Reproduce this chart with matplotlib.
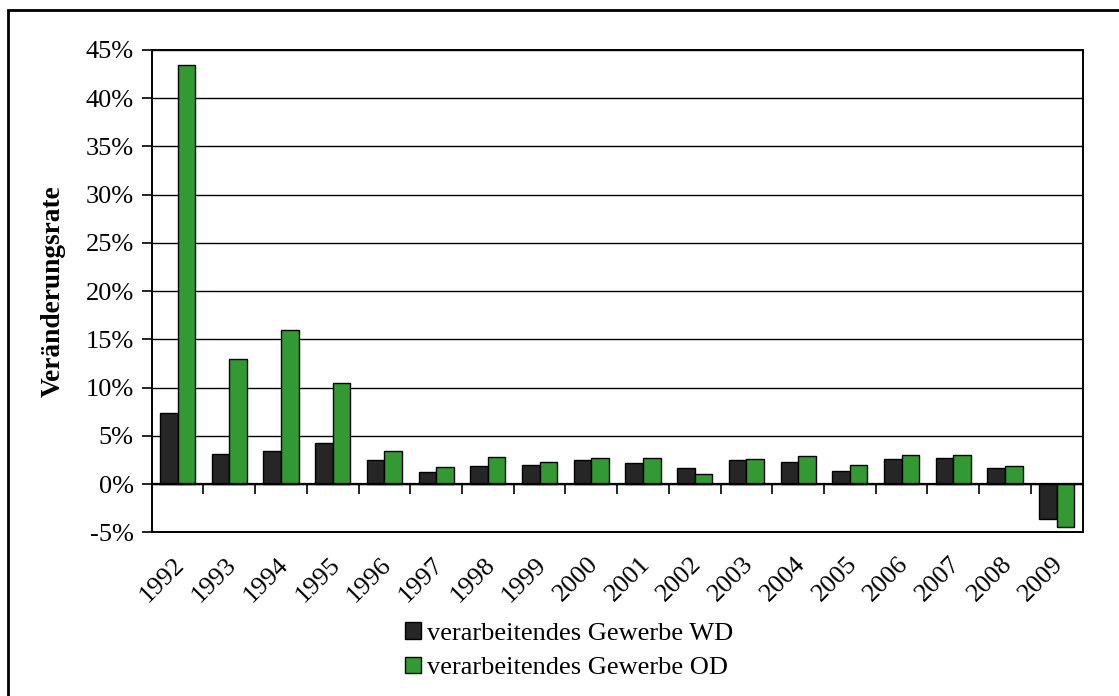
import numpy as np
import matplotlib
matplotlib.use("Agg")
import matplotlib.pyplot as plt
from matplotlib.patches import Patch, Rectangle
from matplotlib.ticker import FuncFormatter
import matplotlib.transforms as mtransforms

years = ["1992", "1993", "1994", "1995", "1996", "1997", "1998", "1999", "2000",
         "2001", "2002", "2003", "2004", "2005", "2006", "2007", "2008", "2009"]
wd = [7.4, 3.1, 3.4, 4.3, 2.5, 1.3, 1.9, 2.0, 2.5,
      2.2, 1.7, 2.5, 2.3, 1.4, 2.6, 2.7, 1.7, -3.6]
od = [43.4, 13.0, 16.0, 10.5, 3.4, 1.8, 2.8, 2.3, 2.7,
      2.7, 1.0, 2.6, 2.9, 2.0, 3.0, 3.0, 1.9, -4.4]
series_names = ["verarbeitendes Gewerbe WD", "verarbeitendes Gewerbe OD"]
colors = ["#262626", "#339933"]

plt.rcParams['font.family'] = ['Liberation Serif', 'DejaVu Serif']
fs = 19

fig = plt.figure(figsize=(11.19, 6.96), dpi=100)
ax = fig.add_axes([0.1356, 0.2352, 0.9675 - 0.1356, 0.9282 - 0.2352])

# outer frame (runs off the right and bottom edge)
fig.patches.append(Rectangle((8 / 1119, -0.05), 1.2, 0.05 + 1 - 10 / 696,
                             transform=fig.transFigure, fill=False,
                             edgecolor="black", linewidth=2.0))

x = np.arange(len(years))
w = 0.34
ax.bar(x - w / 2, wd, w, color=colors[0], edgecolor="black", linewidth=1.0, zorder=3)
ax.bar(x + w / 2, od, w, color=colors[1], edgecolor="black", linewidth=1.0, zorder=3)

ax.set_xlim(-0.5, len(years) - 0.5)
ax.set_ylim(-5, 45)
ax.set_yticks(np.arange(-5, 46, 5))
ax.yaxis.set_major_formatter(FuncFormatter(lambda v, p: f"{v:.0f}%"))
ax.yaxis.grid(True, color="black", linewidth=1.0, zorder=0)
ax.axhline(0, color="black", linewidth=1.6, zorder=4)

for s in ax.spines.values():
    s.set_linewidth(1.4)

ax.tick_params(axis="y", direction="out", length=7, width=1.2, labelsize=fs, pad=6)
ax.set_xticks(x)
ax.set_xticklabels(years, rotation=45, ha="right", va="top", rotation_mode="anchor", fontsize=fs)
ax.tick_params(axis="x", length=0, pad=15)
offset = mtransforms.ScaledTranslation(-3 / 72, 0, fig.dpi_scale_trans)
for lab in ax.get_xticklabels():
    lab.set_transform(lab.get_transform() + offset)

# tick marks on the zero line between categories
sec = ax.secondary_xaxis(0.1)
sec.set_xticks(np.arange(0.5, len(years) - 1, 1.0))
sec.set_xticklabels([])
sec.tick_params(direction="out", length=7, width=1.2)
sec.spines["bottom"].set_visible(False)

ax.set_ylabel("Veränderungsrate", fontsize=19.7, fontweight="bold", labelpad=14)

handles = [Patch(facecolor=c, edgecolor="black", linewidth=1.0) for c in colors]
fig.legend(handles, series_names, loc="upper left", bbox_to_anchor=(405 / 1119, 1 - 622 / 696),
           frameon=False, fontsize=fs, handlelength=0.6, handleheight=0.6,
           handletextpad=0.25, labelspacing=0.45, borderpad=0, borderaxespad=0)

fig.savefig("out.png", dpi=100)
